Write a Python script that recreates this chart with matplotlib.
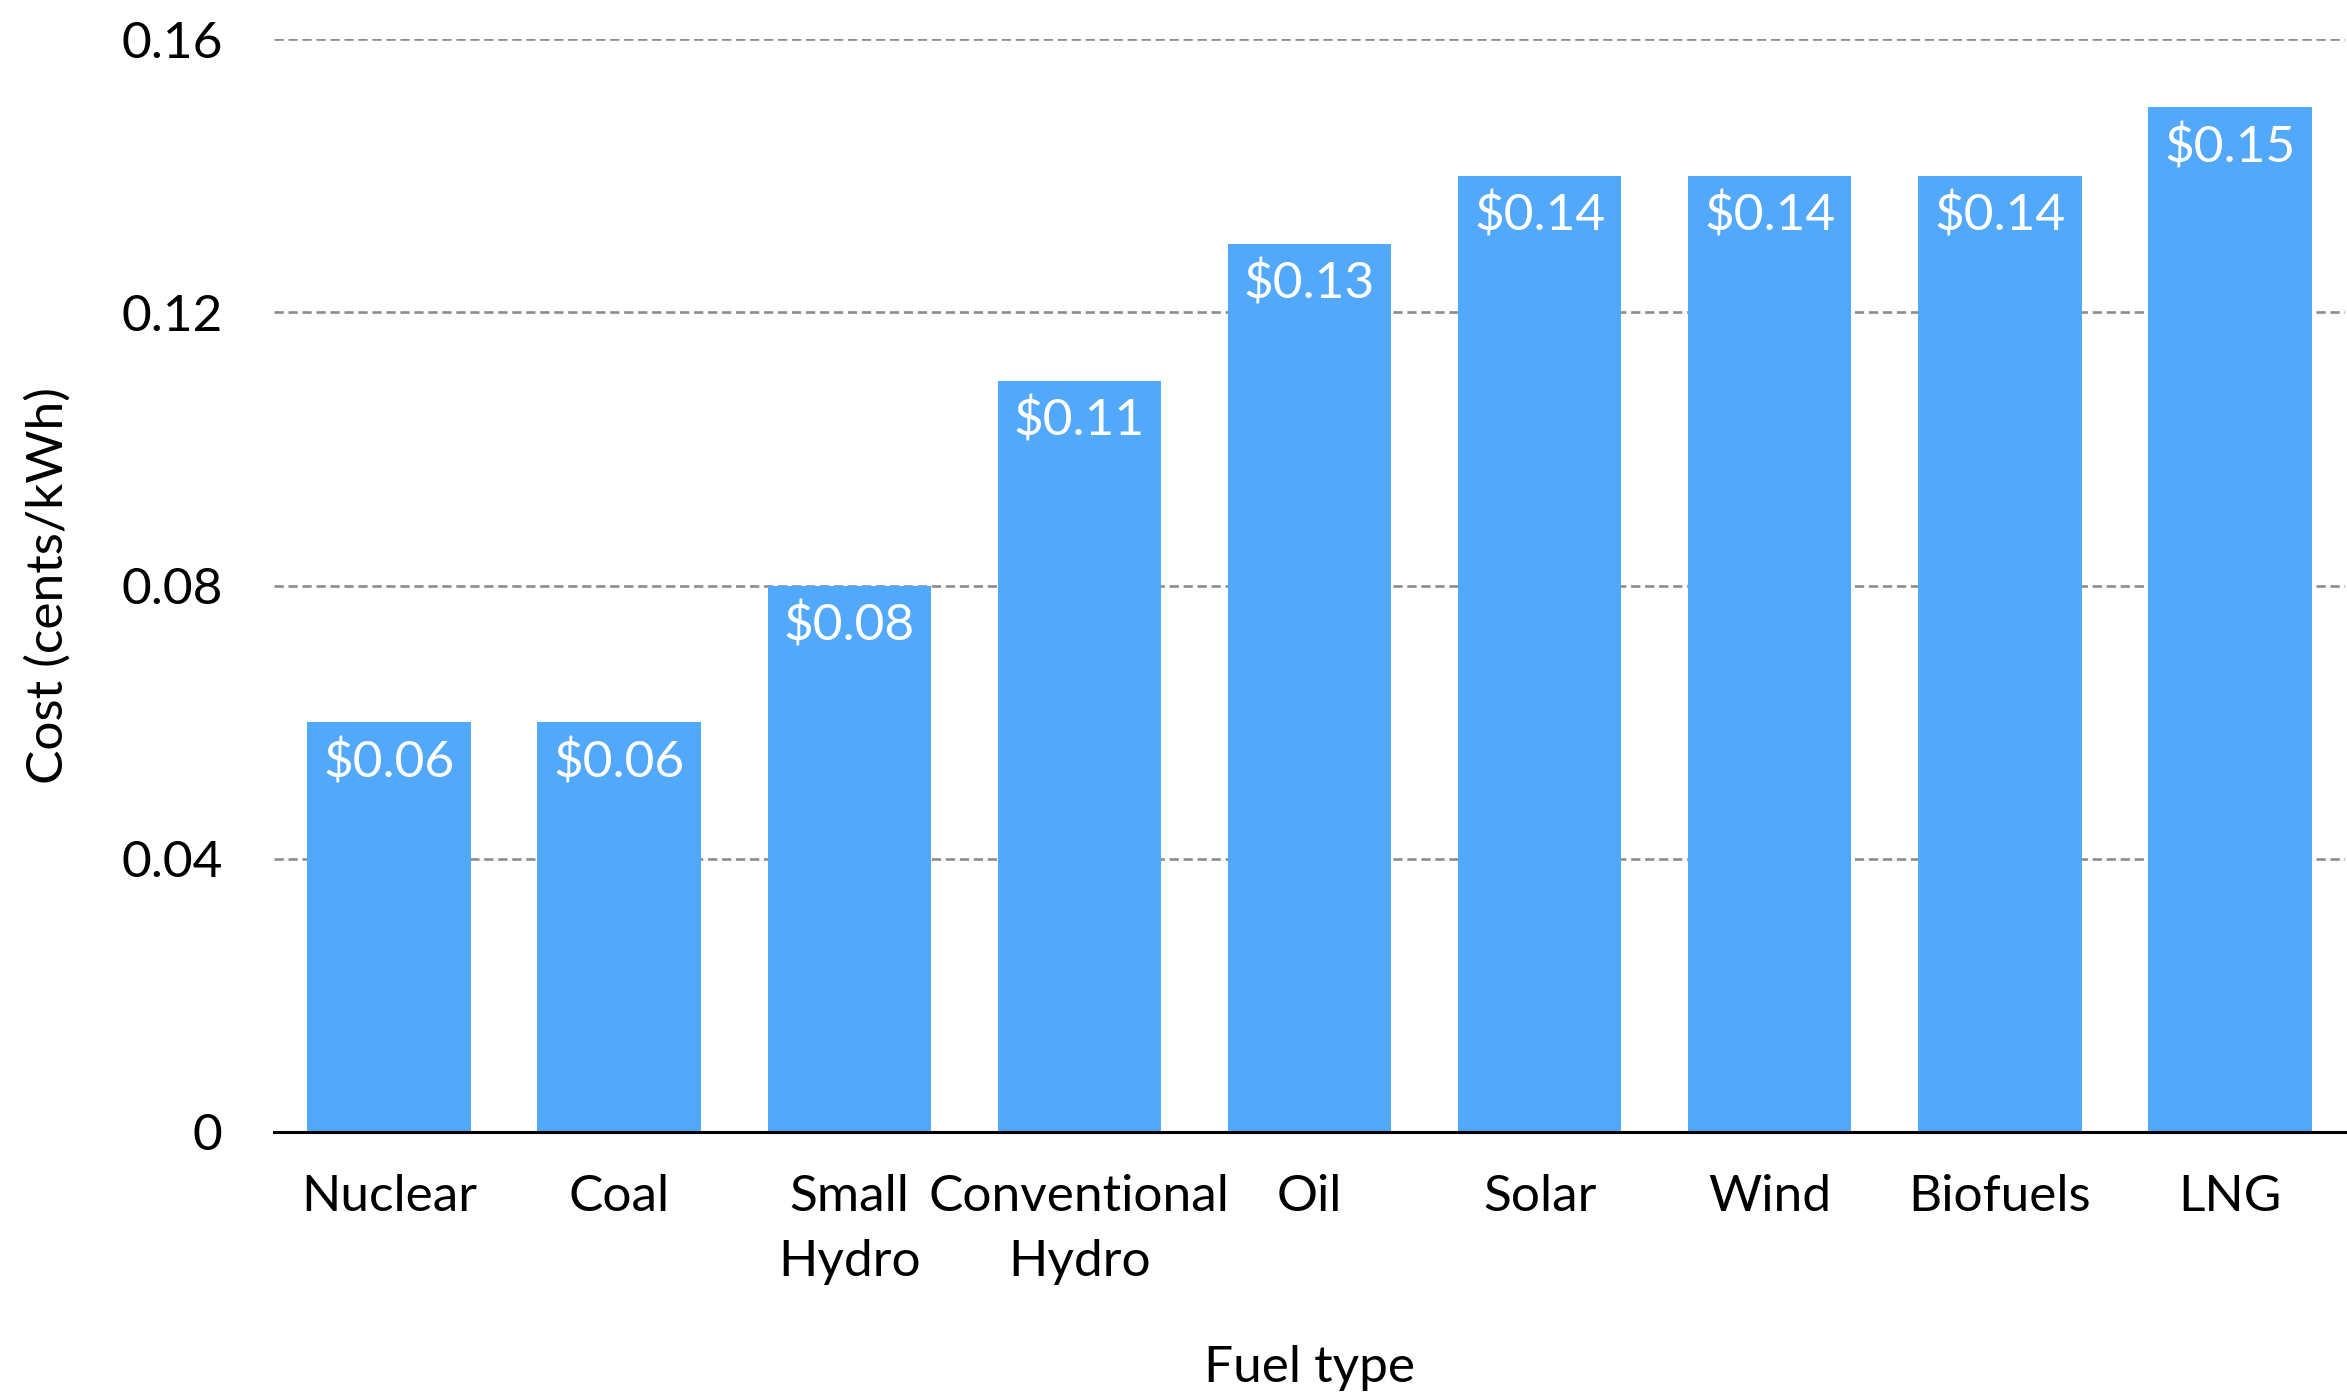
import matplotlib.pyplot as plt
from matplotlib.ticker import FixedLocator, FixedFormatter

plt.rcParams['font.family'] = ['Lato', 'DejaVu Sans']

# Coste por tipo de combustible
fuels = ['Nuclear', 'Coal', 'Small\nHydro', 'Conventional\nHydro', 'Oil',
         'Solar', 'Wind', 'Biofuels', 'LNG']
costs = [0.06, 0.06, 0.08, 0.11, 0.13, 0.14, 0.14, 0.14, 0.15]

y_ticks = [0, 0.04, 0.08, 0.12, 0.16]
y_tick_labels = ['0', '0.04', '0.08', '0.12', '0.16']

bar_color = '#52A8FA'
fs = 37

fig = plt.figure(figsize=(23.47, 13.92), dpi=100)
ax = fig.add_axes([274 / 2347, 1 - 1132 / 1392, (2345 - 274) / 2347, (1132 - 39) / 1392])

x = list(range(len(fuels)))
bars = ax.bar(x, costs, width=0.71, color=bar_color, zorder=2)

# Etiquetas de valor dentro de cada barra
for xi, c in zip(x, costs):
    ax.annotate(f'${c:.2f}', xy=(xi, c), xytext=(0, -39.6), textcoords='offset points',
                ha='center', va='baseline', color='white', fontsize=fs)

ax.set_xlim(-0.5, 8.5)
ax.set_ylim(0, 0.16)
ax.yaxis.set_major_locator(FixedLocator(y_ticks))
ax.yaxis.set_major_formatter(FixedFormatter(y_tick_labels))
ax.set_xticks(x)
ax.set_xticklabels(fuels, linespacing=1.5)

ax.grid(axis='y', color='#8c8c8c', linestyle=(0, (3.5, 1.8)), linewidth=1.9, zorder=0)
ax.set_axisbelow(True)

for side in ['top', 'right', 'left']:
    ax.spines[side].set_visible(False)
ax.spines['bottom'].set_linewidth(2.2)
ax.spines['bottom'].set_color('black')

ax.tick_params(axis='both', length=0, labelsize=fs, colors='black')
ax.tick_params(axis='y', pad=37)
ax.tick_params(axis='x', pad=30.5)

ax.set_ylabel('Cost (cents/kWh)', fontsize=fs)
ax.set_xlabel('Fuel type', fontsize=fs)
ax.yaxis.set_label_coords(-0.0975, 0.5)
ax.xaxis.set_label_coords(0.5, -0.195)

fig.savefig('out.png', dpi=100)
